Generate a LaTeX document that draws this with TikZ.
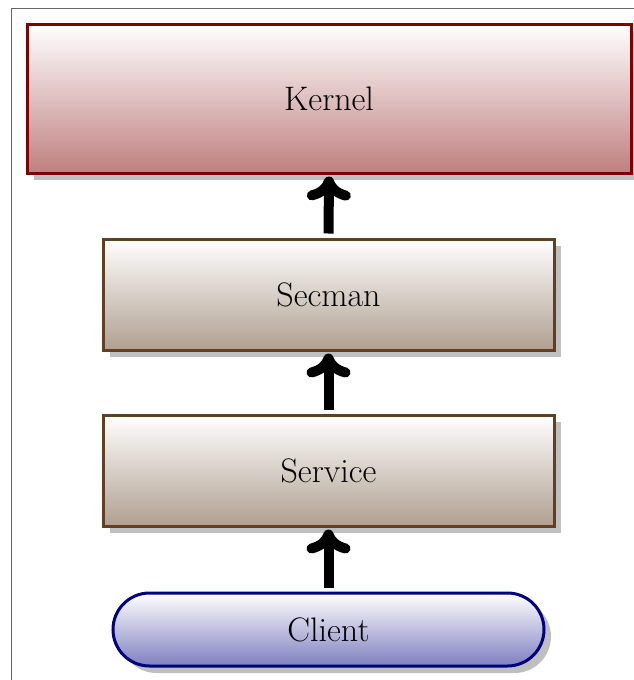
\documentclass[tikz,border=0pt]{standalone}
\usetikzlibrary{arrows.meta,shapes.misc,shadows}
\begin{document}
\begin{tikzpicture}[x=1pt,y=-1pt,
  layer/.style={draw, line width=3pt, inner sep=0pt,
    font=\fontsize{34}{40}\selectfont,
    drop shadow={shadow xshift=7pt, shadow yshift=-7pt, opacity=.5, fill=black!50}},
  kernelbox/.style={layer, rectangle, draw=red!50!black,
    top color=white, bottom color=red!50!black!50,
    minimum width=604pt, minimum height=149pt},
  midbox/.style={layer, rectangle, draw=brown!50!black,
    top color=white, bottom color=brown!50!black!50,
    minimum width=451pt, minimum height=111pt},
  clientbox/.style={layer, rounded rectangle, draw=blue!50!black,
    top color=white, bottom color=blue!50!black!50,
    minimum width=431pt, minimum height=73pt},
  flow/.style={line width=10pt, -{To[round, length=24pt, width=44pt]},
    shorten <=4pt, shorten >=2pt}]
\useasboundingbox (0,0) rectangle (634,680);
% outer frame
\draw[black!60, line width=1pt] (11,8) rectangle (700,720);
\node[kernelbox] (kernel) at (329,98.5) {Kernel};
\node[midbox] (secman) at (328.5,294.5) {Secman};
\node[midbox] (service) at (328.5,470.5) {Service};
\node[clientbox] (client) at (328.5,629.5) {Client};
\draw[flow] (secman.north) -- (kernel.south);
\draw[flow] (service.north) -- (secman.south);
\draw[flow] (client.north) -- (service.south);
\end{tikzpicture}
\end{document}
